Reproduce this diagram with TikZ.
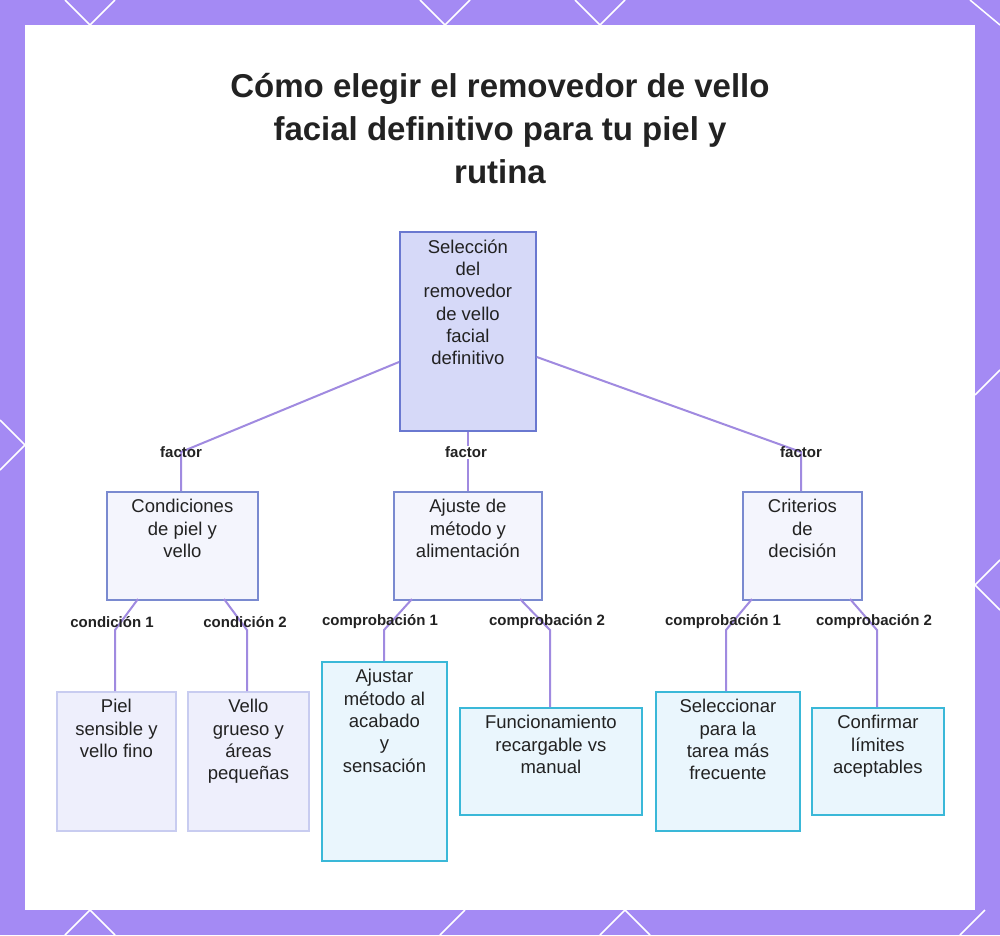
\documentclass[tikz,border=0pt]{standalone}
\usepackage{fontspec}
\setmainfont{Liberation Sans}
\usetikzlibrary{calc}
\definecolor{bgp}{HTML}{A48AF4}
\definecolor{ln}{HTML}{A08AE0}
\definecolor{rootf}{HTML}{D6D9F8}\definecolor{rootd}{HTML}{6A78D0}
\definecolor{midf}{HTML}{F4F5FD}\definecolor{midd}{HTML}{7A8AD0}
\definecolor{lvf}{HTML}{EEEFFC}\definecolor{lvd}{HTML}{C8CCF0}
\definecolor{lcf}{HTML}{EAF6FD}\definecolor{lcd}{HTML}{3AB8D8}
\definecolor{tx}{HTML}{222222}
\begin{document}
\begin{tikzpicture}[x=1pt,y=-1pt,
 box/.style={draw,line width=1.8pt,anchor=north west,align=center,inner sep=0pt},
 root/.style={box,fill=rootf,draw=rootd},
 mid/.style={box,fill=midf,draw=midd},
 lv/.style={box,fill=lvf,draw=lvd},
 lc/.style={box,fill=lcf,draw=lcd},
 txt/.style={font=\fontsize{18.5}{22.3}\selectfont,align=center,anchor=north,text=tx},
 lab/.style={font=\bfseries\fontsize{15}{17}\selectfont,inner sep=1pt,text=tx},
 con/.style={draw=ln,line width=2pt}]
\useasboundingbox (0,0) rectangle (1000,935);
\fill[bgp] (0,0) rectangle (1000,935);
\fill[white] (25,25) rectangle (975,910);
\begin{scope}[white,line width=1.5pt]
\draw (65,0)--(90,25)--(115,0); \draw (420,0)--(445,25)--(470,0);\draw (575,0)--(600,25)--(625,0);
\draw (65,935)--(90,910)--(115,935); \draw (440,935)--(465,910);\draw (960,935)--(985,910);\draw (600,935)--(625,910)--(650,935);
\draw (0,420)--(25,445)--(0,470); \draw (1000,370)--(975,395); \draw (1000,560)--(975,585)--(1000,610);
\draw (970,0)--(1000,25);
\end{scope}
\node[font=\bfseries\fontsize{33}{43}\selectfont,align=center,anchor=north,text=tx] (title) at (500,70) {Cómo elegir el removedor de vello\\facial definitivo para tu piel y\\rutina};
\node[root,minimum width=136,minimum height=199] (r) at (399,231) {};
\node[txt] (rt) at ($(r.north)+(0,5)$) {Selección\\del\\removedor\\de vello\\facial\\definitivo};
\node[mid,minimum width=151,minimum height=108] (a) at (106,491) {};
\node[mid,minimum width=148,minimum height=108] (b) at (393,491) {};
\node[mid,minimum width=119,minimum height=108] (c) at (742,491) {};
\node[txt] (at) at ($(a.north)+(0,5)$) {Condiciones\\de piel y\\vello};
\node[txt] (bt) at ($(b.north)+(0,5)$) {Ajuste de\\método y\\alimentación};
\node[txt] (ct) at ($(c.north)+(0,5)$) {Criterios\\de\\decisión};
\node[lv,minimum width=119,minimum height=139] (a1) at (56,691) {};
\node[lv,minimum width=121,minimum height=139] (a2) at (187,691) {};
\node[lc,minimum width=125,minimum height=199] (b1) at (321,661) {};
\node[lc,minimum width=182,minimum height=107] (b2) at (459,707) {};
\node[lc,minimum width=144,minimum height=139] (c1) at (655,691) {};
\node[lc,minimum width=132,minimum height=107] (c2) at (811,707) {};
\foreach \n/\t in {a1/{Piel\\sensible y\\vello fino},a2/{Vello\\grueso y\\áreas\\pequeñas},b1/{Ajustar\\método al\\acabado\\y\\sensación},b2/{Funcionamiento\\recargable vs\\manual},c1/{Seleccionar\\para la\\tarea más\\frecuente},c2/{Confirmar\\límites\\aceptables}}
  \node[txt] (\n t) at ($(\n.north)+(0,5)$) {\t};
\coordinate (k1) at (181,452); \coordinate (k2) at (466,452); \coordinate (k3) at (801,452);
\draw[con] (r.west |- 0,362) -- (k1) -- (k1 |- a.north);
\draw[con] (r.south) -- (b.north);
\draw[con] (r.east |- 0,357) -- (k3) -- (k3 |- c.north);
\node[lab] (f1) at (k1) {factor};
\node[lab,fill=white] (f2) at (k2) {factor};
\node[lab] (f3) at (k3) {factor};
\foreach \x/\kx/\ch in {138/115/a1,224/247/a2,412/384/b1,520/550/b2,752/726/c1,850/877/c2}{
  \draw[con] (\x,599) -- (\kx,630) -- (\kx,0 |- \ch.north);
}
\node[lab] (l1) at (112,622) {condición 1};
\node[lab] (l2) at (245,622) {condición 2};
\node[lab] (l3) at (380,622) {comprobación 1};
\node[lab] (l4) at (547,622) {comprobación 2};
\node[lab] (l5) at (723,622) {comprobación 1};
\node[lab] (l6) at (874,622) {comprobación 2};
\end{tikzpicture}
\end{document}
